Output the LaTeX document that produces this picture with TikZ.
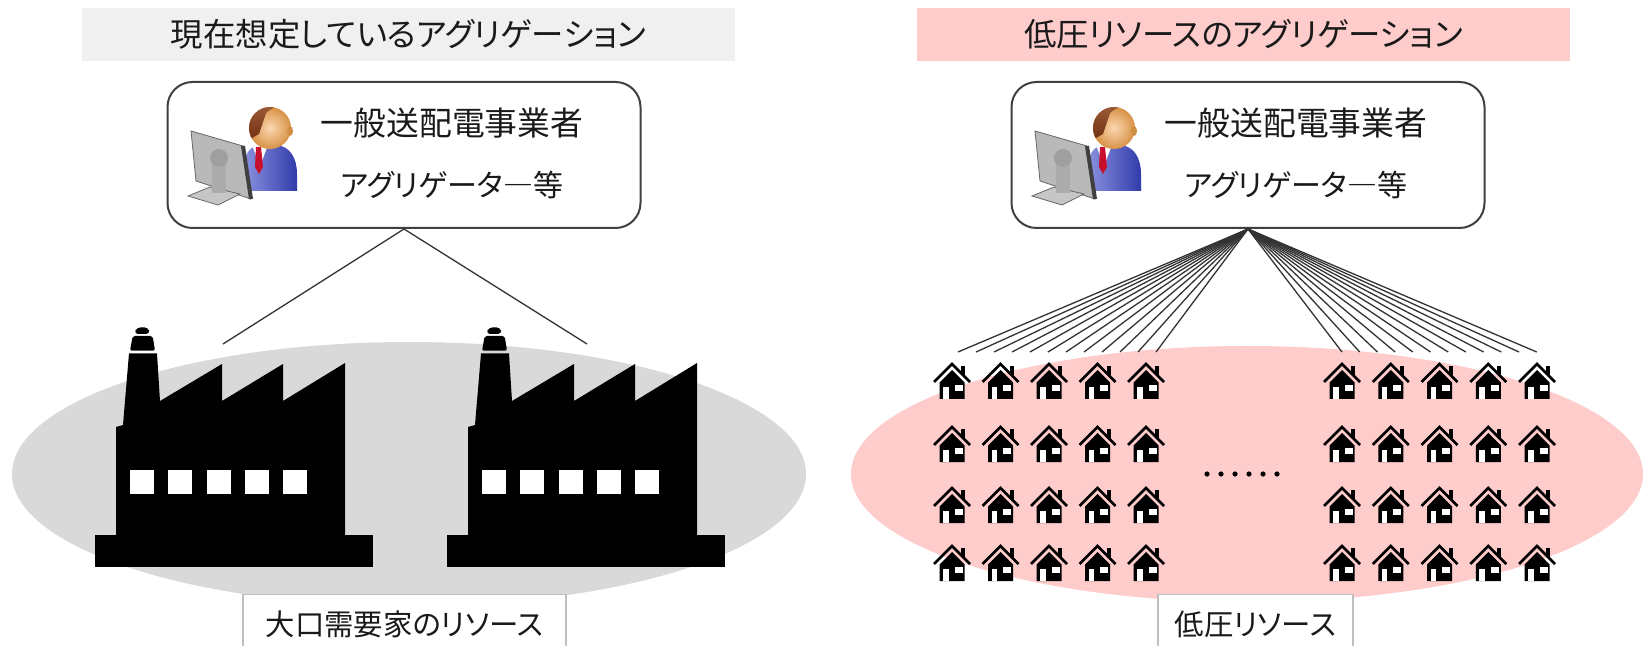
\documentclass[tikz,border=0pt]{standalone}
\usepackage{fontspec}
\setmainfont{Noto Sans CJK JP}[RawFeature=+palt]
\usepackage{xcolor}
\usepackage{tikz}
\usetikzlibrary{calc, positioning}

\definecolor{nenxam}{HTML}{F0F0F0}
\definecolor{nenhong}{HTML}{FFCCCC}
\definecolor{elipxam}{HTML}{D9D9D9}
\definecolor{vienhop}{HTML}{404040}
\definecolor{viennhan}{HTML}{BFBFBF}
\definecolor{chu}{HTML}{1A1A1A}
\definecolor{aoxanh}{HTML}{3A46C8}
\definecolor{cavat}{HTML}{C8102E}
\definecolor{toc}{HTML}{8A3A12}
\definecolor{da}{HTML}{F5A650}

\begin{document}
\begin{tikzpicture}[x=0.5pt, y=-0.5pt, text=chu,
    tieude/.style={minimum width=326.5pt, minimum height=26.5pt, inner sep=0pt,
        font=\fontsize{16.2pt}{20pt}\selectfont},
    hop/.style={draw=vienhop, line width=1pt, rounded corners=12.5pt, fill=white,
        minimum width=236.5pt, minimum height=73pt},
    chuhop/.style={font=\fontsize{16.4pt}{19pt}\selectfont, inner sep=0pt},
    nhan/.style={draw=viennhan, line width=0.6pt, fill=white, anchor=north,
        inner xsep=0pt, inner ysep=9.5pt, text height=11pt, text depth=20pt,
        font=\fontsize{14.7pt}{17pt}\selectfont},
    day/.style={line width=0.65pt, black!80},
    nha/.pic={
        \draw[line width=1.35pt, miter limit=10] (-18,-17) -- (0,-35) -- (18,-17);
        \fill (9,-33) rectangle (13,-24);
        \fill (-12.5,0) -- (-12.5,-16.5) -- (0,-29) -- (12.5,-16.5) -- (12.5,0) -- cycle;
        \fill[white] (-9,0) rectangle (-3.5,-12);
        \fill[white] (2.5,-8) rectangle (10.5,-14);
    }]
    % 1. Nền và khung
    \fill[white] (0,0) rectangle (1643,646);
    \clip (0,0) rectangle (1643,646);

    % 2. Tiêu đề hai bên
    \node[tieude, fill=nenxam] (tdtrai) at (408.5,34.5) {現在想定しているアグリゲーション};
    \node[tieude, fill=nenhong] (tdphai) at (1243.5,34.5) {低圧リソースのアグリゲーション};

    % 3. Hai hình elip nền
    \fill[elipxam] (409,474) ellipse [x radius=397, y radius=132];
    \fill[nenhong] (1247,474) ellipse [x radius=396, y radius=128];

    % 4. Nhà máy
    \foreach \dx in {0,352} {
        \begin{scope}[shift={(\dx,0)}]
            \fill (95,535) rectangle (373,567);
            \fill (116,536) -- (116,427) -- (123,425) -- (129,353.5) -- (157,353.5)
                -- (160,401) -- (222,364) -- (222,401) -- (283,364) -- (283,401)
                -- (345,363) -- (345,536) -- cycle;
            \fill[rounded corners=1pt] (132.7,336) -- (152.7,336) -- (155,350.7) -- (130,350.7) -- cycle;
            \fill[rounded corners=2pt] (136.7,327.3) -- (148.3,327.3) -- (150,334) -- (134,334) -- cycle;
            \foreach \k in {0,...,4}
                \fill[white] ({130+38.3*\k},470) rectangle ++(24,24);
        \end{scope}
    }

    % 5. Hộp trên
    \node[hop] (hoptrai) at (404,155) {};
    \node[hop] (hopphai) at (1248,155) {};

    % 6. Đường nối
    \coordinate (chantrai) at (223,344);
    \coordinate (chanphai) at (587,344);
    \draw[day] (hoptrai.south) -- (chantrai);
    \draw[day] (hoptrai.south) -- (chanphai);
    \foreach \i in {0,...,11} {
        \coordinate (a\i) at ({958+18*\i},352);
        \coordinate (b\i) at ({1342+17.7*\i},352);
        \draw[day] (hopphai.south) -- (a\i);
        \draw[day] (hopphai.south) -- (b\i);
    }

    % 7. Người ngồi máy tính
    \foreach \dx in {0,844} {
        \begin{scope}[shift={(\dx,0)}]
            \shade[left color=aoxanh!60!white, right color=aoxanh!85!black]
                (245,191) -- (245,160) .. controls (247,148) and (255,145) .. (263,145)
                -- (276,145) .. controls (290,146) and (297,158) .. (297,174) -- (297,191) -- cycle;
            \fill[white] (252,145) -- (268,145) -- (260,166) -- cycle;
            \fill[cavat] (256,147) -- (261,147) -- (263,167) -- (259,174) -- (255,167) -- cycle;
            \shade[inner color=da!45!white, outer color=da!88!black] (270,128) circle (10.5pt);
            \begin{scope}
                \clip (270,128) circle (10.5pt);
                \shade[top color=toc!80!white, bottom color=toc!80!black]
                    (245,100) -- (300,100) -- (300,108) .. controls (288,103) and (274,105) .. (266,113)
                    -- (259,134) -- (245,142) -- cycle;
            \end{scope}
            \fill[da!85!black] (290,131) ellipse [x radius=3, y radius=5];
            \fill[gray!55, draw=black!60, line width=0.4pt] (191,131) -- (243,146) -- (251,199) -- (196,181) -- cycle;
            \draw[black!75, line width=2pt] (243,146) -- (251,199);
            \fill[gray!45, draw=black!60, line width=0.4pt] (188,196) -- (210,187) -- (240,194) -- (218,205) -- cycle;
            \fill[gray!65] (212,160) rectangle (226,193);
            \fill[gray!75] (219,158) circle (4.5pt);
        \end{scope}
    }

    % 8. Chữ trong hộp
    \node[chuhop] (dongtrai1) at (452,123) {一般送配電事業者};
    \node[chuhop, font=\fontsize{15pt}{18pt}\selectfont] (dongtrai2) at (452,185) {アグリゲータ―等};
    \node[chuhop] (dongphai1) at (1296,123) {一般送配電事業者};
    \node[chuhop, font=\fontsize{15pt}{18pt}\selectfont] (dongphai2) at (1296,185) {アグリゲータ―等};

    % 9. Các ngôi nhà
    \foreach \y in {399,462,523,581} {
        \foreach \k in {0,...,4} {
            \pic at ({952+48.5*\k},\y) {nha};
            \pic at ({1342+48.75*\k},\y) {nha};
        }
    }

    % 10. Dấu chấm
    \foreach \i in {0,...,5}
        \fill ({1207+14*\i},474) circle (1.3pt);

    % 11. Nhãn dưới
    \node[nhan, minimum width=161.5pt] (nhantrai) at (404.5,594) {大口需要家のリソース};
    \node[nhan, minimum width=97.5pt] (nhanphai) at (1255.5,594) {低圧リソース};
\end{tikzpicture}
\end{document}
